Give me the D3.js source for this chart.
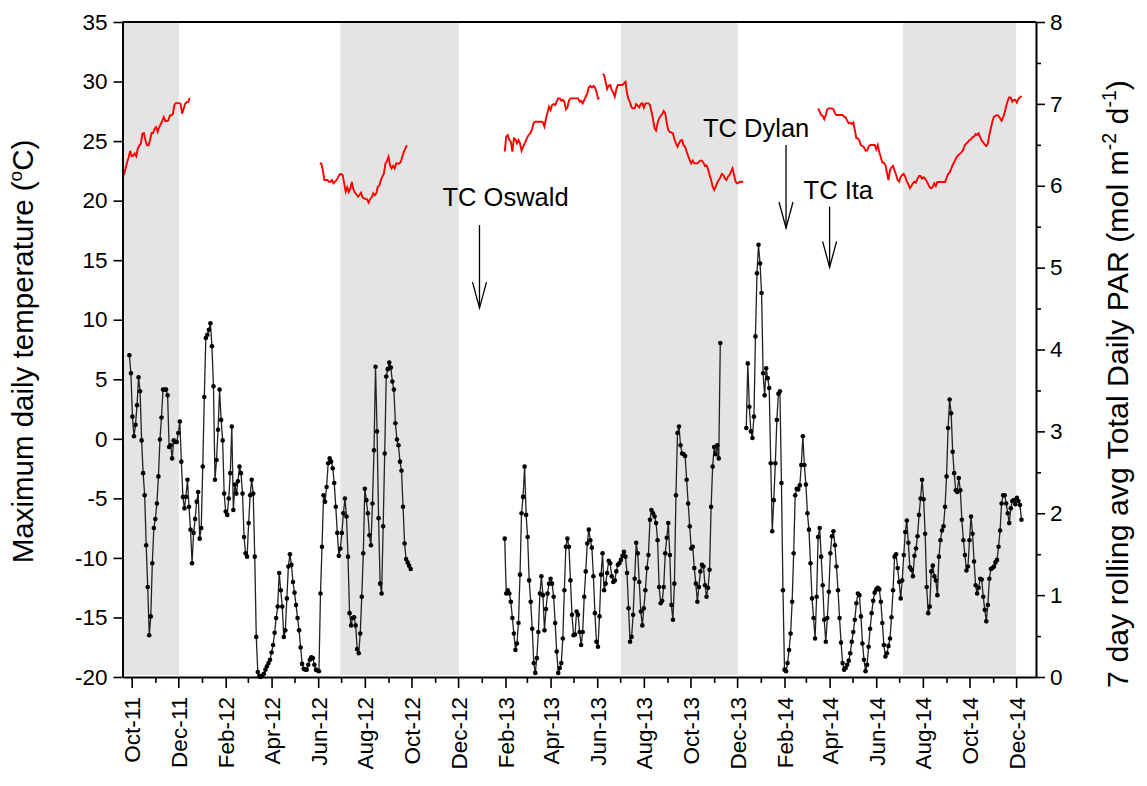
<!DOCTYPE html>
<html><head><meta charset="utf-8">
<script src="https://cdn.jsdelivr.net/npm/d3@7"></script>
<style>
body{margin:0;background:#fff;}
svg text{font-family:"Liberation Sans",Arial,Helvetica,sans-serif;fill:#000;}
</style>
</head><body>
<svg id="chart" width="1147" height="786"></svg>
<script>
// ---------------- DATA ----------------
const xDomain = ["2011-09-19", "2014-12-27"];
const stepDays = 2;

// 7 day rolling avg total daily PAR (mol m-2 d-1), right axis; one value every 2 days
const parSeg1Start = "2011-09-28";
const parSeg1 = [
3.93,3.71,3.18,2.94,3.08,3.32,3.66,3.49,2.89,2.49,
2.22,1.61,1.10,0.51,0.74,1.39,1.82,1.93,2.12,2.45,
2.90,3.17,3.51,3.51,3.51,3.44,2.81,2.83,2.67,2.89,
2.87,2.87,2.98,3.12,2.63,2.20,2.06,2.20,2.41,2.08,
1.80,1.39,1.76,1.93,2.14,2.26,1.69,1.82,2.57,3.42,
4.14,4.18,4.24,4.32,4.04,3.55,2.41,2.65,3.02,3.51,
3.14,2.89,2.24,2.02,1.98,2.18,2.49,3.06,2.04,2.35,
2.24,2.39,2.57,2.49,2.24,1.71,1.51,1.47,1.88,2.22,
2.41,2.24,1.47,0.49,0.06,0.01,0.00,0.02,0.04,0.09,
0.13,0.17,0.21,0.30,
0.39,0.54,0.72,0.86,1.27,1.06,0.86,0.49,0.57,0.96,
1.35,1.50,1.37,1.16,1.03,0.88,0.72,0.57,0.36,0.16,
0.10,0.09,0.09,0.15,0.21,0.24,0.23,0.15,0.09,0.08,
0.07,1.02,1.59,2.22,2.14,2.32,2.61,2.67,2.63,2.55,
2.37,2.08,1.76,1.48,1.57,1.76,2.00,2.18,1.96,1.47,
0.78,0.63,0.72,0.73,0.63,0.34,0.29,0.53,0.98,1.51,
2.30,2.16,2.00,1.73,1.61,2.12,2.77,3.79,3.00,1.94,
1.14,1.02,1.84,2.73,3.67,3.76,3.84,3.78,3.61,3.51,
3.10,2.90,2.83,2.63,2.52,2.08,1.63,1.44,1.40,1.36,1.32
];
const parSeg2Start = "2013-01-31";
const parSeg2 = [
1.69,1.02,1.06,1.02,0.92,0.72,0.53,0.33,0.41,0.66,
1.25,2.00,2.20,2.57,1.98,1.71,1.18,0.92,0.59,0.17,
0.05,0.23,0.55,1.02,1.23,1.00,0.57,0.83,1.02,1.14,
1.20,1.14,0.98,0.66,0.31,0.05,0.11,0.17,0.47,1.06,
1.59,1.69,1.59,1.18,0.76,0.51,0.52,0.80,0.76,0.55,
0.39,0.55,0.98,1.29,1.63,1.80,1.67,1.58,1.23,0.78,
0.43,0.37,0.74,1.25,1.51,1.06,1.14,1.27,1.42,1.39,
1.23,1.16,1.18,1.29,1.37,1.39,1.43,1.48,1.53,1.47,
1.27,0.84,0.43,
0.49,0.76,1.20,1.64,1.51,1.16,0.80,0.63,0.84,1.06,
1.33,1.49,1.92,2.04,2.00,1.96,1.88,1.67,1.10,0.90,
0.93,1.10,1.51,1.70,1.88,1.49,0.88,0.70,1.14,2.22,
2.98,3.06,2.83,2.73,2.72,2.70,2.41,2.12,1.84,1.57,
1.59,1.33,1.14,0.92,1.10,1.29,1.37,1.35,1.12,0.98,
1.09,1.31,2.08,2.57,2.81,2.72,2.83,2.67,4.08
];
const parSeg3Start = "2013-12-13";
const parSeg3 = [
3.04,3.83,3.30,3.00,2.92,3.18,4.16,4.93,5.28,5.05,
4.69,3.71,3.44,3.77,3.65,3.53,2.61,1.78,2.16,2.61,
3.14,3.46,3.49,2.37,1.06,0.09,0.07,0.17,0.33,0.53,
0.92,1.51,2.22,2.30,2.29,2.34,2.59,2.94,2.59,2.35,
2.00,1.80,1.39,0.96,0.72,0.47,0.98,1.71,1.82,1.47,
1.12,0.70,0.43,0.72,1.04,1.51,1.72,1.78,1.61,1.35,
1.06,0.72,0.42,0.17,0.09,0.11,0.15,0.20,0.29,0.43,
0.55,0.70,0.90,1.02,1.00,0.74,0.41,0.21,0.07,0.15,
0.37,0.59,0.78,0.93,1.03,1.07,1.09,1.07,0.92,0.66,
0.39,0.25,0.29,0.38,0.47,
0.73,1.06,1.47,1.50,1.33,1.16,0.96,1.18,1.49,1.77,
1.91,1.64,1.34,1.31,1.23,1.48,1.57,1.72,1.98,2.18,
2.41,2.17,1.75,1.10,0.78,0.86,1.29,1.36,1.23,1.18,
1.00,1.47,1.67,1.79,1.84,2.08,2.45,3.04,3.39,3.22,
2.75,2.49,2.28,2.26,2.43,2.28,1.92,1.67,1.49,1.30,
1.35,1.67,1.96,1.75,1.41,1.12,1.02,1.09,1.20,1.19,
0.98,0.82,0.68,0.88,1.20,1.32,1.33,1.35,1.40,1.43,
1.59,1.79,2.12,2.22,2.22,2.12,2.00,1.88,2.06,2.15,
2.16,2.11,2.19,2.15,2.10,1.92
];

// Maximum daily temperature (°C), left axis; one value every 2 days
const tempSeg1Start = "2011-09-21";
const tempSeg1 = [
22.14,22.70,23.23,23.62,24.18,23.73,23.79,23.96,23.73,24.37,
24.62,24.79,25.63,25.68,25.07,24.65,24.65,25.07,25.68,25.68,
26.04,26.18,25.77,26.18,26.41,26.69,27.02,26.69,26.69,26.74,
27.16,27.16,27.30,28.08,28.19,28.19,28.19,28.13,27.30,27.72,
28.13,28.27,28.27,28.64
];
const tempSeg2Start = "2012-06-03";
const tempSeg2 = [
23.12,23.12,22.56,21.73,21.73,21.73,21.59,21.59,21.73,21.45,
21.59,21.73,21.95,22.20,22.23,22.14,21.45,20.75,21.11,20.72,
21.03,21.56,20.95,20.67,20.53,20.33,20.47,20.67,20.28,20.19,
20.14,20.11,19.83,20.14,20.28,20.61,20.45,20.61,21.17,21.25,
21.73,22.01,22.28,23.12,23.34,23.68,22.98,22.70,22.92,22.70,
23.12,23.12,23.12,23.26,23.68,24.09,24.37,24.65
];
const tempSeg3Start = "2013-01-31";
const tempSeg3 = [
24.11,25.37,25.51,25.09,24.95,24.11,25.23,25.15,24.81,25.09,
24.81,24.20,24.53,24.76,25.09,25.37,25.57,25.71,26.07,26.55,
26.63,26.63,26.63,26.63,26.63,26.57,26.21,26.91,27.39,27.89,
27.61,28.03,28.11,28.03,28.31,28.59,28.59,28.39,28.45,28.31,
27.67,27.84,28.39,28.59,28.59,28.59,28.59,28.59,28.59,28.31,
28.39,28.17,28.45,28.73,29.01,29.51,29.62,29.51,29.62,29.51,
29.15,28.56,28.59
];
const tempSeg4Start = "2013-06-08";
const tempSeg4 = [
30.63,30.55,29.99,29.37,29.65,29.71,29.29,29.07,28.73,29.35,
29.71,29.71,29.71,29.71,29.85,29.99,29.01,28.51,28.23,27.81,
27.75,27.75,28.11,27.95,27.83,28.11,28.17,27.81,28.17,28.17,
28.17,28.03,27.47,26.83,26.07,25.88,26.55,26.91,27.11,27.27,
27.53,27.33,26.49,25.93,25.76,25.73,25.65,25.15,24.81,24.53,
24.81,25.04,25.09,24.62,24.53,24.11,23.75,23.41,23.13,23.36,
23.13,23.13,23.13,23.27,23.36,23.36,23.19,22.91,22.96,22.63,
22.15,21.73,21.17,20.89,21.17,21.51,21.73,21.93,22.24,22.15,
21.87,21.73,22.01,22.15,22.43,22.71,22.15,21.59,21.45,21.51,
21.59,21.59,21.59
];
const tempSeg5Start = "2014-03-17";
const tempSeg5 = [
27.75,27.47,27.19,27.11,26.83,27.19,27.67,27.75,27.75,27.75,
27.67,27.33,27.19,27.19,27.19,27.19,27.19,27.05,26.99,26.71,
26.49,26.55,26.43,26.55,25.93,25.23,25.23,25.04,24.64,24.59,
24.48,24.20,24.20,24.53,24.67,24.67,24.67,24.67,24.31,24.67,
24.06,23.64,23.19,23.19,22.99,22.35,21.73,22.57,22.80,22.91,
22.52,22.18,21.73,21.59,22.01,22.15,22.24,22.01,21.59,21.39,
21.06,21.23,21.45,21.59,21.51,21.84,22.07,22.07,21.84,21.96,
21.84,21.62,21.37,21.11,21.03,21.17,21.45,21.23,21.56,21.56,
21.56,21.56,21.56,21.56,21.90,22.24,22.35,22.66,22.99,23.22,
23.50,23.75,23.86,23.97,24.09,24.31,24.67,24.81,24.92,25.09,
25.15,25.34,25.37,25.59,25.51,25.65,25.31,25.04,24.90,24.70,
24.59,24.81,25.51,26.10,26.66,27.05,27.11,27.19,27.11,26.91,
26.71,26.99,27.39,27.95,28.39,28.67,28.65,28.31,28.45,28.45,
28.23,28.56,28.67,28.78
];

// shaded periods
const shadeStarts = ["2011-09-19", "2012-06-30", "2013-07-02", "2014-07-06"];
const shadeEnds   = ["2011-12-02", "2012-12-02", "2013-12-02", "2014-12-01"];

// cyclone annotations
const cycloneNames = ["TC Oswald", "TC Dylan", "TC Ita"];
const cycloneDates = ["2012-12-29", "2014-02-03", "2014-04-01"];

// axes
const tempTicks = [-20,-15,-10,-5,0,5,10,15,20,25,30,35];
const parTicks = [0,1,2,3,4,5,6,7,8];
const parMinorTicks = [0.5,1.5,2.5,3.5,4.5,5.5,6.5,7.5];
const leftTitle = ["Maximum daily temperature (", "o", "C)"];
const rightTitle = ["7 day rolling avg Total Daily PAR (mol m", "-2", " d", "-1", ")"];

// ---------------- LAYOUT ----------------
const L = 122.5, R = 1036, T = 22, B = 677;
const svg = d3.select("#chart");
const parse = d3.utcParse("%Y-%m-%d");

const x = d3.scaleUtc().domain(xDomain.map(parse)).range([L, R]);
const yT = d3.scaleLinear().domain([-20, 35]).range([B, T]);
const yP = d3.scaleLinear().domain([0, 8]).range([B, T]);

function series(start, vals) {
  const s = parse(start);
  return vals.map((v, i) => ({ date: d3.utcDay.offset(s, i * stepDays), v }));
}

// shaded bands
svg.append("g").selectAll("rect").data(shadeStarts.map((s, i) => [parse(s), parse(shadeEnds[i])]))
  .join("rect")
  .attr("x", d => x(d[0])).attr("width", d => x(d[1]) - x(d[0]))
  .attr("y", T + 1).attr("height", B - T - 3)
  .attr("fill", "#e4e4e4");

// temperature (red)
const tLine = d3.line().x(d => x(d.date)).y(d => yT(d.v));
[[tempSeg1Start, tempSeg1], [tempSeg2Start, tempSeg2], [tempSeg3Start, tempSeg3],
 [tempSeg4Start, tempSeg4], [tempSeg5Start, tempSeg5]].forEach(([s, v]) => {
  svg.append("path").datum(series(s, v)).attr("d", tLine)
    .attr("fill", "none").attr("stroke", "#ff0000").attr("stroke-width", 1.9)
    .attr("stroke-linejoin", "miter");
});

// PAR (black, points)
const pLine = d3.line().x(d => x(d.date)).y(d => yP(d.v));
[[parSeg1Start, parSeg1], [parSeg2Start, parSeg2], [parSeg3Start, parSeg3]].forEach(([s, v]) => {
  const pts = series(s, v);
  svg.append("path").datum(pts).attr("d", pLine)
    .attr("fill", "none").attr("stroke", "#222").attr("stroke-width", 1.3);
  svg.append("g").selectAll("circle").data(pts).join("circle")
    .attr("cx", d => x(d.date)).attr("cy", d => yP(d.v)).attr("r", 2.3).attr("fill", "#000");
});

// frame
svg.append("line").attr("x1", L).attr("x2", R).attr("y1", T).attr("y2", T)
  .attr("stroke", "#000").attr("stroke-width", 2);

// left axis
const gl = svg.append("g").attr("transform", `translate(${L},0)`)
  .call(d3.axisLeft(yT).tickValues(tempTicks).tickSize(9).tickPadding(6).tickSizeOuter(0)
    .tickFormat(d => String(d)));
// right axis
const gr = svg.append("g").attr("transform", `translate(${R},0)`)
  .call(d3.axisRight(yP).tickValues(parTicks.concat(parMinorTicks)).tickSize(9).tickPadding(5)
    .tickSizeOuter(0).tickFormat(d => Number.isInteger(d) ? String(d) : ""));
gr.selectAll(".tick").filter(d => !Number.isInteger(d)).select("line").attr("x2", 5);

// bottom axis
const months = d3.utcMonth.range(parse("2011-10-01"), parse("2014-12-02"));
const gb = svg.append("g").attr("transform", `translate(0,${B})`)
  .call(d3.axisBottom(x).tickValues(months).tickSize(11).tickSizeOuter(0)
    .tickFormat(d => d.getUTCMonth() % 2 === 1 ? d3.utcFormat("%b-%y")(d) : ""));
gb.selectAll(".tick").filter(d => d.getUTCMonth() % 2 === 0).select("line").attr("y2", 6);
gb.selectAll(".tick text")
  .attr("transform", "rotate(-90)").attr("x", -20).attr("y", 0).attr("dy", "0.36em")
  .style("text-anchor", "end");

[gl, gr, gb].forEach(g => {
  g.attr("font-family", null).attr("font-size", null);
  g.select(".domain").attr("stroke", "#000").attr("stroke-width", 2);
  g.selectAll(".tick line").attr("stroke", "#000").attr("stroke-width", 1.6);
  g.selectAll(".tick text").style("font-size", "22.5px").attr("fill", "#000");
});

// axis titles
const lt = svg.append("text").attr("transform", `translate(33,${(T + B) / 2 + 2}) rotate(-90)`)
  .attr("text-anchor", "middle").style("font-size", "29.5px");
lt.append("tspan").text(leftTitle[0]);
lt.append("tspan").text(leftTitle[1]).style("font-size", "19px").attr("dy", -11);
lt.append("tspan").text(leftTitle[2]).attr("dy", 11);

const rt = svg.append("text").attr("transform", `translate(1128,384) rotate(-90)`)
  .attr("text-anchor", "middle").style("font-size", "30.3px");
rt.append("tspan").text(rightTitle[0]);
rt.append("tspan").text(rightTitle[1]).style("font-size", "19.5px").attr("dy", -12);
rt.append("tspan").text(rightTitle[2]).attr("dy", 12);
rt.append("tspan").text(rightTitle[3]).style("font-size", "19.5px").attr("dy", -12);
rt.append("tspan").text(rightTitle[4]).attr("dy", 12);

// cyclone annotations: label offset (px from arrow), label baseline, arrow top, arrow tip (°C on left axis)
const annLayout = [
  { dx: -37, text: 19.55, top: 17.95, tip: 10.98 },
  { dx: -83, text: 25.37, top: 24.67, tip: 17.70 },
  { dx: -26, text: 20.11, top: 19.49, tip: 14.40 }
];
cycloneNames.forEach((name, i) => {
  const ax = x(parse(cycloneDates[i])), lay = annLayout[i];
  svg.append("text").attr("x", ax + lay.dx).attr("y", yT(lay.text))
    .style("font-size", "25.5px").text(name);
  const tipY = yT(lay.tip);
  svg.append("line").attr("x1", ax).attr("x2", ax).attr("y1", yT(lay.top)).attr("y2", tipY)
    .attr("stroke", "#000").attr("stroke-width", 1.3);
  svg.append("path").attr("d", `M${ax - 7},${tipY - 26}L${ax},${tipY}L${ax + 7},${tipY - 26}`)
    .attr("fill", "none").attr("stroke", "#000").attr("stroke-width", 1.3);
});
</script>
</body></html>
